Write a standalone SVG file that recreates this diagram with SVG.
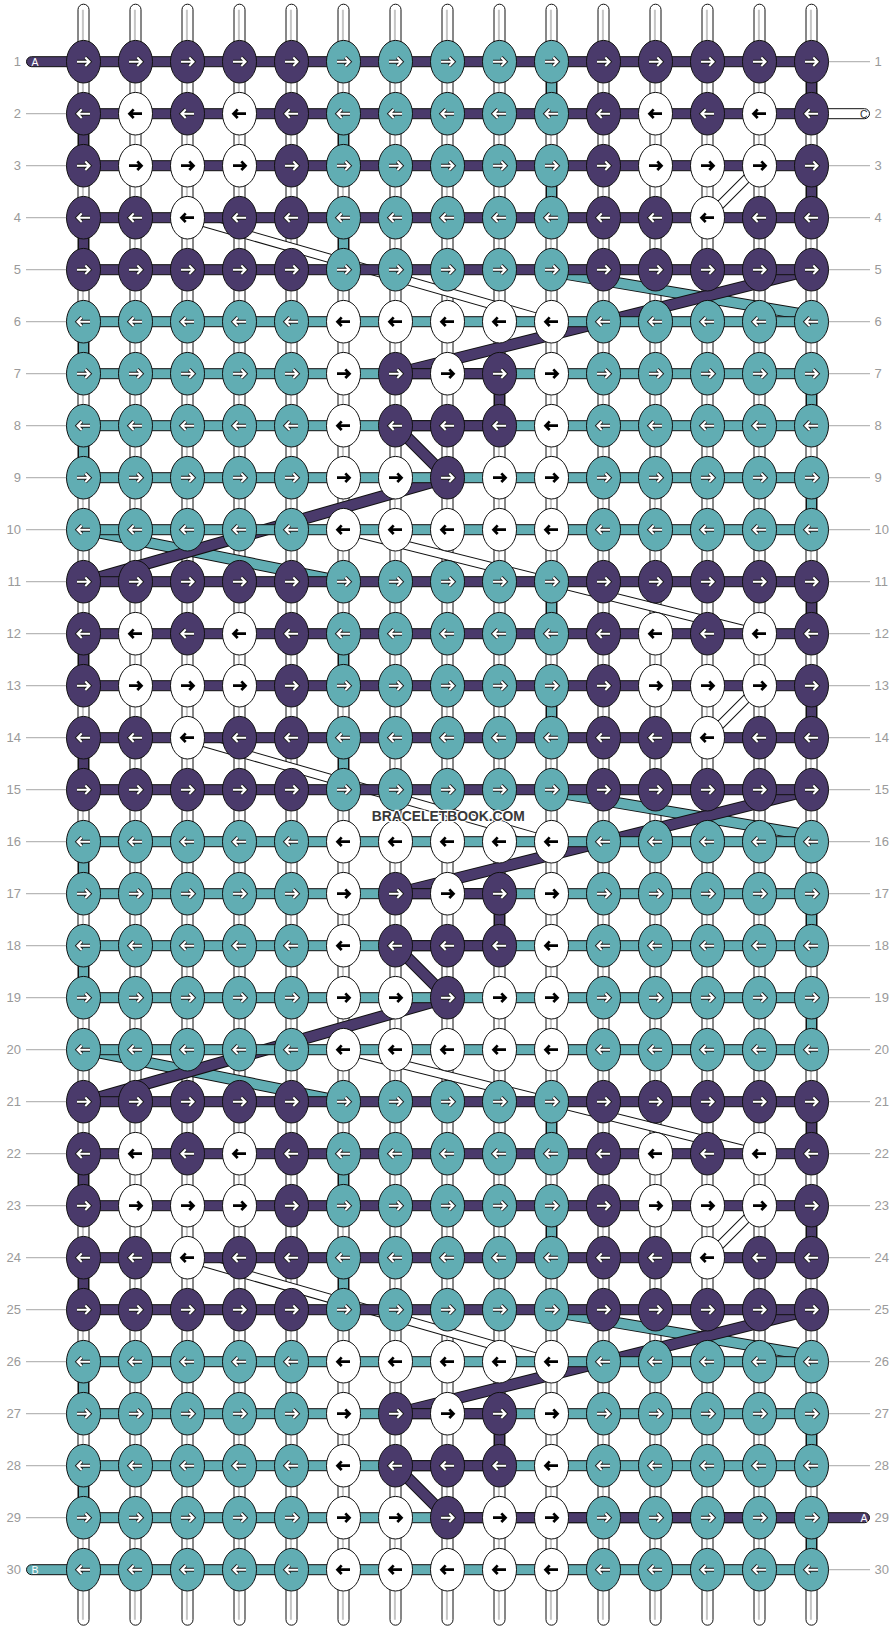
<svg xmlns="http://www.w3.org/2000/svg" xmlns:xlink="http://www.w3.org/1999/xlink" width="896" height="1632" viewBox="0 0 896 1632">
<defs>
<style>
.p{fill:#4a3a6b;stroke:#111;stroke-width:1}
.t{fill:#61adb3;stroke:#111;stroke-width:1}
.w{fill:#fff;stroke:#111;stroke-width:1}
.lb{font-family:"Liberation Sans",Arial,sans-serif;font-size:13px;fill:#9a9a9a}
.tl{font-family:"Liberation Sans",Arial,sans-serif;font-size:10.5px}
</style>
<path id="a" d="M-6.5 0H5M1.8-4.3L6 0L1.8 4.3" fill="none"/>
<g id="aw"><use href="#a" stroke="#1a1a1a" stroke-width="3.9"/><use href="#a" stroke="#fff" stroke-width="2.1"/></g>
<g id="ab"><use href="#a" stroke="#000" stroke-width="2.7"/></g>
<g id="PR"><ellipse class="p" rx="17" ry="21.3"/><use href="#aw"/></g>
<g id="PL"><ellipse class="p" rx="17" ry="21.3"/><use href="#aw" transform="scale(-1 1)"/></g>
<g id="TR"><ellipse class="t" rx="17" ry="21.3"/><use href="#aw"/></g>
<g id="TL"><ellipse class="t" rx="17" ry="21.3"/><use href="#aw" transform="scale(-1 1)"/></g>
<g id="WR"><ellipse class="w" rx="17" ry="21.3"/><use href="#ab"/></g>
<g id="WL"><ellipse class="w" rx="17" ry="21.3"/><use href="#ab" transform="scale(-1 1)"/></g>
<g id="warp"><rect x="-5.5" y="-57.5" width="11" height="1621" rx="5.5" fill="#fff" stroke="#111" stroke-width="1"/><line x1="-0.6" y1="-52" x2="-0.6" y2="1558" stroke="#c6c6c6" stroke-width="2"/></g>
</defs>
<rect width="896" height="1632" fill="#fff"/>
<g transform="translate(83.5 61.7)">
<g id="labels">
<path d="M-57.5 52H-17M-57.5 104H-17M-57.5 156H-17M-57.5 208H-17M-57.5 260H-17M-57.5 312H-17M-57.5 364H-17M-57.5 416H-17M-57.5 468H-17M-57.5 520H-17M-57.5 572H-17M-57.5 624H-17M-57.5 676H-17M-57.5 728H-17M-57.5 780H-17M-57.5 832H-17M-57.5 884H-17M-57.5 936H-17M-57.5 988H-17M-57.5 1040H-17M-57.5 1092H-17M-57.5 1144H-17M-57.5 1196H-17M-57.5 1248H-17M-57.5 1300H-17M-57.5 1352H-17M-57.5 1404H-17M-57.5 1456H-17" stroke="#b8b8b8" stroke-width="1.3" fill="none"/>
<path d="M745 0H786.5M745 104H786.5M745 156H786.5M745 208H786.5M745 260H786.5M745 312H786.5M745 364H786.5M745 416H786.5M745 468H786.5M745 520H786.5M745 572H786.5M745 624H786.5M745 676H786.5M745 728H786.5M745 780H786.5M745 832H786.5M745 884H786.5M745 936H786.5M745 988H786.5M745 1040H786.5M745 1092H786.5M745 1144H786.5M745 1196H786.5M745 1248H786.5M745 1300H786.5M745 1352H786.5M745 1404H786.5M745 1508H786.5" stroke="#b8b8b8" stroke-width="1.3" fill="none"/>
<g class="lb" text-anchor="end">
<text x="-62.5" y="4.6">1</text><text x="-62.5" y="56.6">2</text><text x="-62.5" y="108.6">3</text><text x="-62.5" y="160.6">4</text><text x="-62.5" y="212.6">5</text><text x="-62.5" y="264.6">6</text><text x="-62.5" y="316.6">7</text><text x="-62.5" y="368.6">8</text><text x="-62.5" y="420.6">9</text><text x="-62.5" y="472.6">10</text><text x="-62.5" y="524.6">11</text><text x="-62.5" y="576.6">12</text><text x="-62.5" y="628.6">13</text><text x="-62.5" y="680.6">14</text><text x="-62.5" y="732.6">15</text><text x="-62.5" y="784.6">16</text><text x="-62.5" y="836.6">17</text><text x="-62.5" y="888.6">18</text><text x="-62.5" y="940.6">19</text><text x="-62.5" y="992.6">20</text><text x="-62.5" y="1044.6">21</text><text x="-62.5" y="1096.6">22</text><text x="-62.5" y="1148.6">23</text><text x="-62.5" y="1200.6">24</text><text x="-62.5" y="1252.6">25</text><text x="-62.5" y="1304.6">26</text><text x="-62.5" y="1356.6">27</text><text x="-62.5" y="1408.6">28</text><text x="-62.5" y="1460.6">29</text><text x="-62.5" y="1512.6">30</text>
</g>
<g class="lb">
<text x="791" y="4.6">1</text><text x="791" y="56.6">2</text><text x="791" y="108.6">3</text><text x="791" y="160.6">4</text><text x="791" y="212.6">5</text><text x="791" y="264.6">6</text><text x="791" y="316.6">7</text><text x="791" y="368.6">8</text><text x="791" y="420.6">9</text><text x="791" y="472.6">10</text><text x="791" y="524.6">11</text><text x="791" y="576.6">12</text><text x="791" y="628.6">13</text><text x="791" y="680.6">14</text><text x="791" y="732.6">15</text><text x="791" y="784.6">16</text><text x="791" y="836.6">17</text><text x="791" y="888.6">18</text><text x="791" y="940.6">19</text><text x="791" y="992.6">20</text><text x="791" y="1044.6">21</text><text x="791" y="1096.6">22</text><text x="791" y="1148.6">23</text><text x="791" y="1200.6">24</text><text x="791" y="1252.6">25</text><text x="791" y="1304.6">26</text><text x="791" y="1356.6">27</text><text x="791" y="1408.6">28</text><text x="791" y="1460.6">29</text><text x="791" y="1512.6">30</text>
</g>
</g>
<g id="connectors">
<g id="warps">
<use href="#warp" x="0"/><use href="#warp" x="52"/><use href="#warp" x="104"/><use href="#warp" x="156"/><use href="#warp" x="208"/><use href="#warp" x="260"/><use href="#warp" x="312"/><use href="#warp" x="364"/><use href="#warp" x="416"/><use href="#warp" x="468"/><use href="#warp" x="520"/><use href="#warp" x="572"/><use href="#warp" x="624"/><use href="#warp" x="676"/><use href="#warp" x="728"/>
</g>
<g id="bands" fill="none">
<path d="M468 210L728 254M468 730L728 774M468 1250L728 1294M0 468L260 520M0 988L260 1040" stroke="#111" stroke-width="11.5"/>
<path d="M468 210L728 254M468 730L728 774M468 1250L728 1294M0 468L260 520M0 988L260 1040" stroke="#61adb3" stroke-width="9.5"/>
<path d="M676 104L624 156M676 624L624 676M676 1144L624 1196M104 156L468 260M104 676L468 780M104 1196L468 1300M260 468L676 572M260 988L676 1092" stroke="#111" stroke-width="9.5"/>
<path d="M676 104L624 156M676 624L624 676M676 1144L624 1196M104 156L468 260M104 676L468 780M104 1196L468 1300M260 468L676 572M260 988L676 1092" stroke="#fff" stroke-width="7.5"/>
<path d="M728 208L312 312M728 728L312 832M728 1248L312 1352M312 364L364 416M312 884L364 936M312 1404L364 1456M364 416L0 520M364 936L0 1040" stroke="#111" stroke-width="12"/>
<path d="M728 208L312 312M728 728L312 832M728 1248L312 1352M312 364L364 416M312 884L364 936M312 1404L364 1456M364 416L0 520M364 936L0 1040" stroke="#4a3a6b" stroke-width="10"/>
</g>
<g id="wefts">
<rect class="p" x="0" y="-5" width="728" height="10"/><rect class="p" x="0" y="47" width="728" height="10"/><rect class="p" x="0" y="99" width="728" height="10"/><rect class="p" x="0" y="151" width="728" height="10"/><rect class="p" x="0" y="203" width="728" height="10"/>
<rect class="t" x="0" y="255" width="728" height="10"/><rect class="t" x="0" y="307" width="728" height="10"/><rect class="t" x="0" y="359" width="728" height="10"/><rect class="t" x="0" y="411" width="728" height="10"/><rect class="t" x="0" y="463" width="728" height="10"/>
<rect class="p" x="0" y="515" width="728" height="10"/><rect class="p" x="0" y="567" width="728" height="10"/><rect class="p" x="0" y="619" width="728" height="10"/><rect class="p" x="0" y="671" width="728" height="10"/><rect class="p" x="0" y="723" width="728" height="10"/>
<rect class="t" x="0" y="775" width="728" height="10"/><rect class="t" x="0" y="827" width="728" height="10"/><rect class="t" x="0" y="879" width="728" height="10"/><rect class="t" x="0" y="931" width="728" height="10"/><rect class="t" x="0" y="983" width="728" height="10"/>
<rect class="p" x="0" y="1035" width="728" height="10"/><rect class="p" x="0" y="1087" width="728" height="10"/><rect class="p" x="0" y="1139" width="728" height="10"/><rect class="p" x="0" y="1191" width="728" height="10"/><rect class="p" x="0" y="1243" width="728" height="10"/>
<rect class="t" x="0" y="1295" width="728" height="10"/><rect class="t" x="0" y="1347" width="728" height="10"/><rect class="t" x="0" y="1399" width="728" height="10"/><rect class="t" x="0" y="1451" width="728" height="10"/><rect class="t" x="0" y="1503" width="728" height="10"/>
<rect class="p" x="312" y="307" width="104" height="10"/><rect class="p" x="312" y="359" width="104" height="10"/><rect class="p" x="312" y="827" width="104" height="10"/><rect class="p" x="312" y="879" width="104" height="10"/><rect class="p" x="312" y="1347" width="104" height="10"/><rect class="p" x="312" y="1399" width="104" height="10"/><rect class="p" x="364" y="1451" width="364" height="10"/>
</g>
<g id="turns">
<rect class="p" x="723" y="0" width="10" height="52"/><rect class="p" x="723" y="104" width="10" height="52"/><rect class="p" x="723" y="520" width="10" height="52"/><rect class="p" x="723" y="624" width="10" height="52"/><rect class="p" x="723" y="1040" width="10" height="52"/><rect class="p" x="723" y="1144" width="10" height="52"/>
<rect class="p" x="-5" y="52" width="10" height="52"/><rect class="p" x="-5" y="156" width="10" height="52"/><rect class="p" x="-5" y="572" width="10" height="52"/><rect class="p" x="-5" y="676" width="10" height="52"/><rect class="p" x="-5" y="1092" width="10" height="52"/><rect class="p" x="-5" y="1196" width="10" height="52"/>
<rect class="p" x="411" y="312" width="10" height="52"/><rect class="p" x="411" y="832" width="10" height="52"/><rect class="p" x="411" y="1352" width="10" height="52"/>
<rect class="t" x="463" y="0" width="10" height="52"/><rect class="t" x="463" y="104" width="10" height="52"/><rect class="t" x="463" y="520" width="10" height="52"/><rect class="t" x="463" y="624" width="10" height="52"/><rect class="t" x="463" y="1040" width="10" height="52"/><rect class="t" x="463" y="1144" width="10" height="52"/>
<rect class="t" x="255" y="52" width="10" height="52"/><rect class="t" x="255" y="156" width="10" height="52"/><rect class="t" x="255" y="572" width="10" height="52"/><rect class="t" x="255" y="676" width="10" height="52"/><rect class="t" x="255" y="1092" width="10" height="52"/><rect class="t" x="255" y="1196" width="10" height="52"/>
<rect class="t" x="-5" y="260" width="10" height="52"/><rect class="t" x="-5" y="364" width="10" height="52"/><rect class="t" x="-5" y="780" width="10" height="52"/><rect class="t" x="-5" y="884" width="10" height="52"/><rect class="t" x="-5" y="1300" width="10" height="52"/><rect class="t" x="-5" y="1404" width="10" height="52"/>
<rect class="t" x="723" y="312" width="10" height="52"/><rect class="t" x="723" y="416" width="10" height="52"/><rect class="t" x="723" y="832" width="10" height="52"/><rect class="t" x="723" y="936" width="10" height="52"/><rect class="t" x="723" y="1352" width="10" height="52"/><rect class="t" x="723" y="1456" width="10" height="52"/>
</g>
<g id="tails">
<rect class="p" x="-57" y="-5" width="57" height="10" rx="5"/><text class="tl" x="-52" y="4" fill="#fff">A</text>
<rect class="t" x="-57" y="1503" width="57" height="10" rx="5"/><text class="tl" x="-52" y="1512" fill="#fff">B</text>
<rect class="w" x="728" y="47" width="58" height="10" rx="5"/><text class="tl" x="784" y="56" fill="#333" text-anchor="end">C</text>
<rect class="p" x="728" y="1451" width="58" height="10" rx="5"/><text class="tl" x="784" y="1460" fill="#fff" text-anchor="end">A</text>
</g>
</g>
<g id="knots">
<g id="row1" transform="translate(0 0)"><g id="n1-1"><use href="#PR" x="0"/></g><g id="n1-2"><use href="#PR" x="52"/></g><g id="n1-3"><use href="#PR" x="104"/></g><g id="n1-4"><use href="#PR" x="156"/></g><g id="n1-5"><use href="#PR" x="208"/></g><g id="n1-6"><use href="#TR" x="260"/></g><g id="n1-7"><use href="#TR" x="312"/></g><g id="n1-8"><use href="#TR" x="364"/></g><g id="n1-9"><use href="#TR" x="416"/></g><g id="n1-10"><use href="#TR" x="468"/></g><g id="n1-11"><use href="#PR" x="520"/></g><g id="n1-12"><use href="#PR" x="572"/></g><g id="n1-13"><use href="#PR" x="624"/></g><g id="n1-14"><use href="#PR" x="676"/></g><g id="n1-15"><use href="#PR" x="728"/></g></g>
<g id="row2" transform="translate(0 52)"><g id="n2-1"><use href="#PL" x="0"/></g><g id="n2-2"><use href="#WL" x="52"/></g><g id="n2-3"><use href="#PL" x="104"/></g><g id="n2-4"><use href="#WL" x="156"/></g><g id="n2-5"><use href="#PL" x="208"/></g><g id="n2-6"><use href="#TL" x="260"/></g><g id="n2-7"><use href="#TL" x="312"/></g><g id="n2-8"><use href="#TL" x="364"/></g><g id="n2-9"><use href="#TL" x="416"/></g><g id="n2-10"><use href="#TL" x="468"/></g><g id="n2-11"><use href="#PL" x="520"/></g><g id="n2-12"><use href="#WL" x="572"/></g><g id="n2-13"><use href="#PL" x="624"/></g><g id="n2-14"><use href="#WL" x="676"/></g><g id="n2-15"><use href="#PL" x="728"/></g></g>
<g id="row3" transform="translate(0 104)"><g id="n3-1"><use href="#PR" x="0"/></g><g id="n3-2"><use href="#WR" x="52"/></g><g id="n3-3"><use href="#WR" x="104"/></g><g id="n3-4"><use href="#WR" x="156"/></g><g id="n3-5"><use href="#PR" x="208"/></g><g id="n3-6"><use href="#TR" x="260"/></g><g id="n3-7"><use href="#TR" x="312"/></g><g id="n3-8"><use href="#TR" x="364"/></g><g id="n3-9"><use href="#TR" x="416"/></g><g id="n3-10"><use href="#TR" x="468"/></g><g id="n3-11"><use href="#PR" x="520"/></g><g id="n3-12"><use href="#WR" x="572"/></g><g id="n3-13"><use href="#WR" x="624"/></g><g id="n3-14"><use href="#WR" x="676"/></g><g id="n3-15"><use href="#PR" x="728"/></g></g>
<g id="row4" transform="translate(0 156)"><g id="n4-1"><use href="#PL" x="0"/></g><g id="n4-2"><use href="#PL" x="52"/></g><g id="n4-3"><use href="#WL" x="104"/></g><g id="n4-4"><use href="#PL" x="156"/></g><g id="n4-5"><use href="#PL" x="208"/></g><g id="n4-6"><use href="#TL" x="260"/></g><g id="n4-7"><use href="#TL" x="312"/></g><g id="n4-8"><use href="#TL" x="364"/></g><g id="n4-9"><use href="#TL" x="416"/></g><g id="n4-10"><use href="#TL" x="468"/></g><g id="n4-11"><use href="#PL" x="520"/></g><g id="n4-12"><use href="#PL" x="572"/></g><g id="n4-13"><use href="#WL" x="624"/></g><g id="n4-14"><use href="#PL" x="676"/></g><g id="n4-15"><use href="#PL" x="728"/></g></g>
<g id="row5" transform="translate(0 208)"><g id="n5-1"><use href="#PR" x="0"/></g><g id="n5-2"><use href="#PR" x="52"/></g><g id="n5-3"><use href="#PR" x="104"/></g><g id="n5-4"><use href="#PR" x="156"/></g><g id="n5-5"><use href="#PR" x="208"/></g><g id="n5-6"><use href="#TR" x="260"/></g><g id="n5-7"><use href="#TR" x="312"/></g><g id="n5-8"><use href="#TR" x="364"/></g><g id="n5-9"><use href="#TR" x="416"/></g><g id="n5-10"><use href="#TR" x="468"/></g><g id="n5-11"><use href="#PR" x="520"/></g><g id="n5-12"><use href="#PR" x="572"/></g><g id="n5-13"><use href="#PR" x="624"/></g><g id="n5-14"><use href="#PR" x="676"/></g><g id="n5-15"><use href="#PR" x="728"/></g></g>
<g id="row6" transform="translate(0 260)"><g id="n6-1"><use href="#TL" x="0"/></g><g id="n6-2"><use href="#TL" x="52"/></g><g id="n6-3"><use href="#TL" x="104"/></g><g id="n6-4"><use href="#TL" x="156"/></g><g id="n6-5"><use href="#TL" x="208"/></g><g id="n6-6"><use href="#WL" x="260"/></g><g id="n6-7"><use href="#WL" x="312"/></g><g id="n6-8"><use href="#WL" x="364"/></g><g id="n6-9"><use href="#WL" x="416"/></g><g id="n6-10"><use href="#WL" x="468"/></g><g id="n6-11"><use href="#TL" x="520"/></g><g id="n6-12"><use href="#TL" x="572"/></g><g id="n6-13"><use href="#TL" x="624"/></g><g id="n6-14"><use href="#TL" x="676"/></g><g id="n6-15"><use href="#TL" x="728"/></g></g>
<g id="row7" transform="translate(0 312)"><g id="n7-1"><use href="#TR" x="0"/></g><g id="n7-2"><use href="#TR" x="52"/></g><g id="n7-3"><use href="#TR" x="104"/></g><g id="n7-4"><use href="#TR" x="156"/></g><g id="n7-5"><use href="#TR" x="208"/></g><g id="n7-6"><use href="#WR" x="260"/></g><g id="n7-7"><use href="#PR" x="312"/></g><g id="n7-8"><use href="#WR" x="364"/></g><g id="n7-9"><use href="#PR" x="416"/></g><g id="n7-10"><use href="#WR" x="468"/></g><g id="n7-11"><use href="#TR" x="520"/></g><g id="n7-12"><use href="#TR" x="572"/></g><g id="n7-13"><use href="#TR" x="624"/></g><g id="n7-14"><use href="#TR" x="676"/></g><g id="n7-15"><use href="#TR" x="728"/></g></g>
<g id="row8" transform="translate(0 364)"><g id="n8-1"><use href="#TL" x="0"/></g><g id="n8-2"><use href="#TL" x="52"/></g><g id="n8-3"><use href="#TL" x="104"/></g><g id="n8-4"><use href="#TL" x="156"/></g><g id="n8-5"><use href="#TL" x="208"/></g><g id="n8-6"><use href="#WL" x="260"/></g><g id="n8-7"><use href="#PL" x="312"/></g><g id="n8-8"><use href="#PL" x="364"/></g><g id="n8-9"><use href="#PL" x="416"/></g><g id="n8-10"><use href="#WL" x="468"/></g><g id="n8-11"><use href="#TL" x="520"/></g><g id="n8-12"><use href="#TL" x="572"/></g><g id="n8-13"><use href="#TL" x="624"/></g><g id="n8-14"><use href="#TL" x="676"/></g><g id="n8-15"><use href="#TL" x="728"/></g></g>
<g id="row9" transform="translate(0 416)"><g id="n9-1"><use href="#TR" x="0"/></g><g id="n9-2"><use href="#TR" x="52"/></g><g id="n9-3"><use href="#TR" x="104"/></g><g id="n9-4"><use href="#TR" x="156"/></g><g id="n9-5"><use href="#TR" x="208"/></g><g id="n9-6"><use href="#WR" x="260"/></g><g id="n9-7"><use href="#WR" x="312"/></g><g id="n9-8"><use href="#PR" x="364"/></g><g id="n9-9"><use href="#WR" x="416"/></g><g id="n9-10"><use href="#WR" x="468"/></g><g id="n9-11"><use href="#TR" x="520"/></g><g id="n9-12"><use href="#TR" x="572"/></g><g id="n9-13"><use href="#TR" x="624"/></g><g id="n9-14"><use href="#TR" x="676"/></g><g id="n9-15"><use href="#TR" x="728"/></g></g>
<g id="row10" transform="translate(0 468)"><g id="n10-1"><use href="#TL" x="0"/></g><g id="n10-2"><use href="#TL" x="52"/></g><g id="n10-3"><use href="#TL" x="104"/></g><g id="n10-4"><use href="#TL" x="156"/></g><g id="n10-5"><use href="#TL" x="208"/></g><g id="n10-6"><use href="#WL" x="260"/></g><g id="n10-7"><use href="#WL" x="312"/></g><g id="n10-8"><use href="#WL" x="364"/></g><g id="n10-9"><use href="#WL" x="416"/></g><g id="n10-10"><use href="#WL" x="468"/></g><g id="n10-11"><use href="#TL" x="520"/></g><g id="n10-12"><use href="#TL" x="572"/></g><g id="n10-13"><use href="#TL" x="624"/></g><g id="n10-14"><use href="#TL" x="676"/></g><g id="n10-15"><use href="#TL" x="728"/></g></g>
<g id="row11" transform="translate(0 520)"><g id="n11-1"><use href="#PR" x="0"/></g><g id="n11-2"><use href="#PR" x="52"/></g><g id="n11-3"><use href="#PR" x="104"/></g><g id="n11-4"><use href="#PR" x="156"/></g><g id="n11-5"><use href="#PR" x="208"/></g><g id="n11-6"><use href="#TR" x="260"/></g><g id="n11-7"><use href="#TR" x="312"/></g><g id="n11-8"><use href="#TR" x="364"/></g><g id="n11-9"><use href="#TR" x="416"/></g><g id="n11-10"><use href="#TR" x="468"/></g><g id="n11-11"><use href="#PR" x="520"/></g><g id="n11-12"><use href="#PR" x="572"/></g><g id="n11-13"><use href="#PR" x="624"/></g><g id="n11-14"><use href="#PR" x="676"/></g><g id="n11-15"><use href="#PR" x="728"/></g></g>
<g id="row12" transform="translate(0 572)"><g id="n12-1"><use href="#PL" x="0"/></g><g id="n12-2"><use href="#WL" x="52"/></g><g id="n12-3"><use href="#PL" x="104"/></g><g id="n12-4"><use href="#WL" x="156"/></g><g id="n12-5"><use href="#PL" x="208"/></g><g id="n12-6"><use href="#TL" x="260"/></g><g id="n12-7"><use href="#TL" x="312"/></g><g id="n12-8"><use href="#TL" x="364"/></g><g id="n12-9"><use href="#TL" x="416"/></g><g id="n12-10"><use href="#TL" x="468"/></g><g id="n12-11"><use href="#PL" x="520"/></g><g id="n12-12"><use href="#WL" x="572"/></g><g id="n12-13"><use href="#PL" x="624"/></g><g id="n12-14"><use href="#WL" x="676"/></g><g id="n12-15"><use href="#PL" x="728"/></g></g>
<g id="row13" transform="translate(0 624)"><g id="n13-1"><use href="#PR" x="0"/></g><g id="n13-2"><use href="#WR" x="52"/></g><g id="n13-3"><use href="#WR" x="104"/></g><g id="n13-4"><use href="#WR" x="156"/></g><g id="n13-5"><use href="#PR" x="208"/></g><g id="n13-6"><use href="#TR" x="260"/></g><g id="n13-7"><use href="#TR" x="312"/></g><g id="n13-8"><use href="#TR" x="364"/></g><g id="n13-9"><use href="#TR" x="416"/></g><g id="n13-10"><use href="#TR" x="468"/></g><g id="n13-11"><use href="#PR" x="520"/></g><g id="n13-12"><use href="#WR" x="572"/></g><g id="n13-13"><use href="#WR" x="624"/></g><g id="n13-14"><use href="#WR" x="676"/></g><g id="n13-15"><use href="#PR" x="728"/></g></g>
<g id="row14" transform="translate(0 676)"><g id="n14-1"><use href="#PL" x="0"/></g><g id="n14-2"><use href="#PL" x="52"/></g><g id="n14-3"><use href="#WL" x="104"/></g><g id="n14-4"><use href="#PL" x="156"/></g><g id="n14-5"><use href="#PL" x="208"/></g><g id="n14-6"><use href="#TL" x="260"/></g><g id="n14-7"><use href="#TL" x="312"/></g><g id="n14-8"><use href="#TL" x="364"/></g><g id="n14-9"><use href="#TL" x="416"/></g><g id="n14-10"><use href="#TL" x="468"/></g><g id="n14-11"><use href="#PL" x="520"/></g><g id="n14-12"><use href="#PL" x="572"/></g><g id="n14-13"><use href="#WL" x="624"/></g><g id="n14-14"><use href="#PL" x="676"/></g><g id="n14-15"><use href="#PL" x="728"/></g></g>
<g id="row15" transform="translate(0 728)"><g id="n15-1"><use href="#PR" x="0"/></g><g id="n15-2"><use href="#PR" x="52"/></g><g id="n15-3"><use href="#PR" x="104"/></g><g id="n15-4"><use href="#PR" x="156"/></g><g id="n15-5"><use href="#PR" x="208"/></g><g id="n15-6"><use href="#TR" x="260"/></g><g id="n15-7"><use href="#TR" x="312"/></g><g id="n15-8"><use href="#TR" x="364"/></g><g id="n15-9"><use href="#TR" x="416"/></g><g id="n15-10"><use href="#TR" x="468"/></g><g id="n15-11"><use href="#PR" x="520"/></g><g id="n15-12"><use href="#PR" x="572"/></g><g id="n15-13"><use href="#PR" x="624"/></g><g id="n15-14"><use href="#PR" x="676"/></g><g id="n15-15"><use href="#PR" x="728"/></g></g>
<g id="row16" transform="translate(0 780)"><g id="n16-1"><use href="#TL" x="0"/></g><g id="n16-2"><use href="#TL" x="52"/></g><g id="n16-3"><use href="#TL" x="104"/></g><g id="n16-4"><use href="#TL" x="156"/></g><g id="n16-5"><use href="#TL" x="208"/></g><g id="n16-6"><use href="#WL" x="260"/></g><g id="n16-7"><use href="#WL" x="312"/></g><g id="n16-8"><use href="#WL" x="364"/></g><g id="n16-9"><use href="#WL" x="416"/></g><g id="n16-10"><use href="#WL" x="468"/></g><g id="n16-11"><use href="#TL" x="520"/></g><g id="n16-12"><use href="#TL" x="572"/></g><g id="n16-13"><use href="#TL" x="624"/></g><g id="n16-14"><use href="#TL" x="676"/></g><g id="n16-15"><use href="#TL" x="728"/></g></g>
<g id="row17" transform="translate(0 832)"><g id="n17-1"><use href="#TR" x="0"/></g><g id="n17-2"><use href="#TR" x="52"/></g><g id="n17-3"><use href="#TR" x="104"/></g><g id="n17-4"><use href="#TR" x="156"/></g><g id="n17-5"><use href="#TR" x="208"/></g><g id="n17-6"><use href="#WR" x="260"/></g><g id="n17-7"><use href="#PR" x="312"/></g><g id="n17-8"><use href="#WR" x="364"/></g><g id="n17-9"><use href="#PR" x="416"/></g><g id="n17-10"><use href="#WR" x="468"/></g><g id="n17-11"><use href="#TR" x="520"/></g><g id="n17-12"><use href="#TR" x="572"/></g><g id="n17-13"><use href="#TR" x="624"/></g><g id="n17-14"><use href="#TR" x="676"/></g><g id="n17-15"><use href="#TR" x="728"/></g></g>
<g id="row18" transform="translate(0 884)"><g id="n18-1"><use href="#TL" x="0"/></g><g id="n18-2"><use href="#TL" x="52"/></g><g id="n18-3"><use href="#TL" x="104"/></g><g id="n18-4"><use href="#TL" x="156"/></g><g id="n18-5"><use href="#TL" x="208"/></g><g id="n18-6"><use href="#WL" x="260"/></g><g id="n18-7"><use href="#PL" x="312"/></g><g id="n18-8"><use href="#PL" x="364"/></g><g id="n18-9"><use href="#PL" x="416"/></g><g id="n18-10"><use href="#WL" x="468"/></g><g id="n18-11"><use href="#TL" x="520"/></g><g id="n18-12"><use href="#TL" x="572"/></g><g id="n18-13"><use href="#TL" x="624"/></g><g id="n18-14"><use href="#TL" x="676"/></g><g id="n18-15"><use href="#TL" x="728"/></g></g>
<g id="row19" transform="translate(0 936)"><g id="n19-1"><use href="#TR" x="0"/></g><g id="n19-2"><use href="#TR" x="52"/></g><g id="n19-3"><use href="#TR" x="104"/></g><g id="n19-4"><use href="#TR" x="156"/></g><g id="n19-5"><use href="#TR" x="208"/></g><g id="n19-6"><use href="#WR" x="260"/></g><g id="n19-7"><use href="#WR" x="312"/></g><g id="n19-8"><use href="#PR" x="364"/></g><g id="n19-9"><use href="#WR" x="416"/></g><g id="n19-10"><use href="#WR" x="468"/></g><g id="n19-11"><use href="#TR" x="520"/></g><g id="n19-12"><use href="#TR" x="572"/></g><g id="n19-13"><use href="#TR" x="624"/></g><g id="n19-14"><use href="#TR" x="676"/></g><g id="n19-15"><use href="#TR" x="728"/></g></g>
<g id="row20" transform="translate(0 988)"><g id="n20-1"><use href="#TL" x="0"/></g><g id="n20-2"><use href="#TL" x="52"/></g><g id="n20-3"><use href="#TL" x="104"/></g><g id="n20-4"><use href="#TL" x="156"/></g><g id="n20-5"><use href="#TL" x="208"/></g><g id="n20-6"><use href="#WL" x="260"/></g><g id="n20-7"><use href="#WL" x="312"/></g><g id="n20-8"><use href="#WL" x="364"/></g><g id="n20-9"><use href="#WL" x="416"/></g><g id="n20-10"><use href="#WL" x="468"/></g><g id="n20-11"><use href="#TL" x="520"/></g><g id="n20-12"><use href="#TL" x="572"/></g><g id="n20-13"><use href="#TL" x="624"/></g><g id="n20-14"><use href="#TL" x="676"/></g><g id="n20-15"><use href="#TL" x="728"/></g></g>
<g id="row21" transform="translate(0 1040)"><g id="n21-1"><use href="#PR" x="0"/></g><g id="n21-2"><use href="#PR" x="52"/></g><g id="n21-3"><use href="#PR" x="104"/></g><g id="n21-4"><use href="#PR" x="156"/></g><g id="n21-5"><use href="#PR" x="208"/></g><g id="n21-6"><use href="#TR" x="260"/></g><g id="n21-7"><use href="#TR" x="312"/></g><g id="n21-8"><use href="#TR" x="364"/></g><g id="n21-9"><use href="#TR" x="416"/></g><g id="n21-10"><use href="#TR" x="468"/></g><g id="n21-11"><use href="#PR" x="520"/></g><g id="n21-12"><use href="#PR" x="572"/></g><g id="n21-13"><use href="#PR" x="624"/></g><g id="n21-14"><use href="#PR" x="676"/></g><g id="n21-15"><use href="#PR" x="728"/></g></g>
<g id="row22" transform="translate(0 1092)"><g id="n22-1"><use href="#PL" x="0"/></g><g id="n22-2"><use href="#WL" x="52"/></g><g id="n22-3"><use href="#PL" x="104"/></g><g id="n22-4"><use href="#WL" x="156"/></g><g id="n22-5"><use href="#PL" x="208"/></g><g id="n22-6"><use href="#TL" x="260"/></g><g id="n22-7"><use href="#TL" x="312"/></g><g id="n22-8"><use href="#TL" x="364"/></g><g id="n22-9"><use href="#TL" x="416"/></g><g id="n22-10"><use href="#TL" x="468"/></g><g id="n22-11"><use href="#PL" x="520"/></g><g id="n22-12"><use href="#WL" x="572"/></g><g id="n22-13"><use href="#PL" x="624"/></g><g id="n22-14"><use href="#WL" x="676"/></g><g id="n22-15"><use href="#PL" x="728"/></g></g>
<g id="row23" transform="translate(0 1144)"><g id="n23-1"><use href="#PR" x="0"/></g><g id="n23-2"><use href="#WR" x="52"/></g><g id="n23-3"><use href="#WR" x="104"/></g><g id="n23-4"><use href="#WR" x="156"/></g><g id="n23-5"><use href="#PR" x="208"/></g><g id="n23-6"><use href="#TR" x="260"/></g><g id="n23-7"><use href="#TR" x="312"/></g><g id="n23-8"><use href="#TR" x="364"/></g><g id="n23-9"><use href="#TR" x="416"/></g><g id="n23-10"><use href="#TR" x="468"/></g><g id="n23-11"><use href="#PR" x="520"/></g><g id="n23-12"><use href="#WR" x="572"/></g><g id="n23-13"><use href="#WR" x="624"/></g><g id="n23-14"><use href="#WR" x="676"/></g><g id="n23-15"><use href="#PR" x="728"/></g></g>
<g id="row24" transform="translate(0 1196)"><g id="n24-1"><use href="#PL" x="0"/></g><g id="n24-2"><use href="#PL" x="52"/></g><g id="n24-3"><use href="#WL" x="104"/></g><g id="n24-4"><use href="#PL" x="156"/></g><g id="n24-5"><use href="#PL" x="208"/></g><g id="n24-6"><use href="#TL" x="260"/></g><g id="n24-7"><use href="#TL" x="312"/></g><g id="n24-8"><use href="#TL" x="364"/></g><g id="n24-9"><use href="#TL" x="416"/></g><g id="n24-10"><use href="#TL" x="468"/></g><g id="n24-11"><use href="#PL" x="520"/></g><g id="n24-12"><use href="#PL" x="572"/></g><g id="n24-13"><use href="#WL" x="624"/></g><g id="n24-14"><use href="#PL" x="676"/></g><g id="n24-15"><use href="#PL" x="728"/></g></g>
<g id="row25" transform="translate(0 1248)"><g id="n25-1"><use href="#PR" x="0"/></g><g id="n25-2"><use href="#PR" x="52"/></g><g id="n25-3"><use href="#PR" x="104"/></g><g id="n25-4"><use href="#PR" x="156"/></g><g id="n25-5"><use href="#PR" x="208"/></g><g id="n25-6"><use href="#TR" x="260"/></g><g id="n25-7"><use href="#TR" x="312"/></g><g id="n25-8"><use href="#TR" x="364"/></g><g id="n25-9"><use href="#TR" x="416"/></g><g id="n25-10"><use href="#TR" x="468"/></g><g id="n25-11"><use href="#PR" x="520"/></g><g id="n25-12"><use href="#PR" x="572"/></g><g id="n25-13"><use href="#PR" x="624"/></g><g id="n25-14"><use href="#PR" x="676"/></g><g id="n25-15"><use href="#PR" x="728"/></g></g>
<g id="row26" transform="translate(0 1300)"><g id="n26-1"><use href="#TL" x="0"/></g><g id="n26-2"><use href="#TL" x="52"/></g><g id="n26-3"><use href="#TL" x="104"/></g><g id="n26-4"><use href="#TL" x="156"/></g><g id="n26-5"><use href="#TL" x="208"/></g><g id="n26-6"><use href="#WL" x="260"/></g><g id="n26-7"><use href="#WL" x="312"/></g><g id="n26-8"><use href="#WL" x="364"/></g><g id="n26-9"><use href="#WL" x="416"/></g><g id="n26-10"><use href="#WL" x="468"/></g><g id="n26-11"><use href="#TL" x="520"/></g><g id="n26-12"><use href="#TL" x="572"/></g><g id="n26-13"><use href="#TL" x="624"/></g><g id="n26-14"><use href="#TL" x="676"/></g><g id="n26-15"><use href="#TL" x="728"/></g></g>
<g id="row27" transform="translate(0 1352)"><g id="n27-1"><use href="#TR" x="0"/></g><g id="n27-2"><use href="#TR" x="52"/></g><g id="n27-3"><use href="#TR" x="104"/></g><g id="n27-4"><use href="#TR" x="156"/></g><g id="n27-5"><use href="#TR" x="208"/></g><g id="n27-6"><use href="#WR" x="260"/></g><g id="n27-7"><use href="#PR" x="312"/></g><g id="n27-8"><use href="#WR" x="364"/></g><g id="n27-9"><use href="#PR" x="416"/></g><g id="n27-10"><use href="#WR" x="468"/></g><g id="n27-11"><use href="#TR" x="520"/></g><g id="n27-12"><use href="#TR" x="572"/></g><g id="n27-13"><use href="#TR" x="624"/></g><g id="n27-14"><use href="#TR" x="676"/></g><g id="n27-15"><use href="#TR" x="728"/></g></g>
<g id="row28" transform="translate(0 1404)"><g id="n28-1"><use href="#TL" x="0"/></g><g id="n28-2"><use href="#TL" x="52"/></g><g id="n28-3"><use href="#TL" x="104"/></g><g id="n28-4"><use href="#TL" x="156"/></g><g id="n28-5"><use href="#TL" x="208"/></g><g id="n28-6"><use href="#WL" x="260"/></g><g id="n28-7"><use href="#PL" x="312"/></g><g id="n28-8"><use href="#PL" x="364"/></g><g id="n28-9"><use href="#PL" x="416"/></g><g id="n28-10"><use href="#WL" x="468"/></g><g id="n28-11"><use href="#TL" x="520"/></g><g id="n28-12"><use href="#TL" x="572"/></g><g id="n28-13"><use href="#TL" x="624"/></g><g id="n28-14"><use href="#TL" x="676"/></g><g id="n28-15"><use href="#TL" x="728"/></g></g>
<g id="row29" transform="translate(0 1456)"><g id="n29-1"><use href="#TR" x="0"/></g><g id="n29-2"><use href="#TR" x="52"/></g><g id="n29-3"><use href="#TR" x="104"/></g><g id="n29-4"><use href="#TR" x="156"/></g><g id="n29-5"><use href="#TR" x="208"/></g><g id="n29-6"><use href="#WR" x="260"/></g><g id="n29-7"><use href="#WR" x="312"/></g><g id="n29-8"><use href="#PR" x="364"/></g><g id="n29-9"><use href="#WR" x="416"/></g><g id="n29-10"><use href="#WR" x="468"/></g><g id="n29-11"><use href="#TR" x="520"/></g><g id="n29-12"><use href="#TR" x="572"/></g><g id="n29-13"><use href="#TR" x="624"/></g><g id="n29-14"><use href="#TR" x="676"/></g><g id="n29-15"><use href="#TR" x="728"/></g></g>
<g id="row30" transform="translate(0 1508)"><g id="n30-1"><use href="#TL" x="0"/></g><g id="n30-2"><use href="#TL" x="52"/></g><g id="n30-3"><use href="#TL" x="104"/></g><g id="n30-4"><use href="#TL" x="156"/></g><g id="n30-5"><use href="#TL" x="208"/></g><g id="n30-6"><use href="#WL" x="260"/></g><g id="n30-7"><use href="#WL" x="312"/></g><g id="n30-8"><use href="#WL" x="364"/></g><g id="n30-9"><use href="#WL" x="416"/></g><g id="n30-10"><use href="#WL" x="468"/></g><g id="n30-11"><use href="#TL" x="520"/></g><g id="n30-12"><use href="#TL" x="572"/></g><g id="n30-13"><use href="#TL" x="624"/></g><g id="n30-14"><use href="#TL" x="676"/></g><g id="n30-15"><use href="#TL" x="728"/></g></g>
</g>
<text x="364.8" y="759" font-family="'Liberation Sans',Arial,sans-serif" font-size="15" font-weight="bold" text-anchor="middle" fill="#383838" stroke="#fff" stroke-width="2.4" paint-order="stroke" textLength="153" lengthAdjust="spacingAndGlyphs">BRACELETBOOK.COM</text>
</g>
</svg>
